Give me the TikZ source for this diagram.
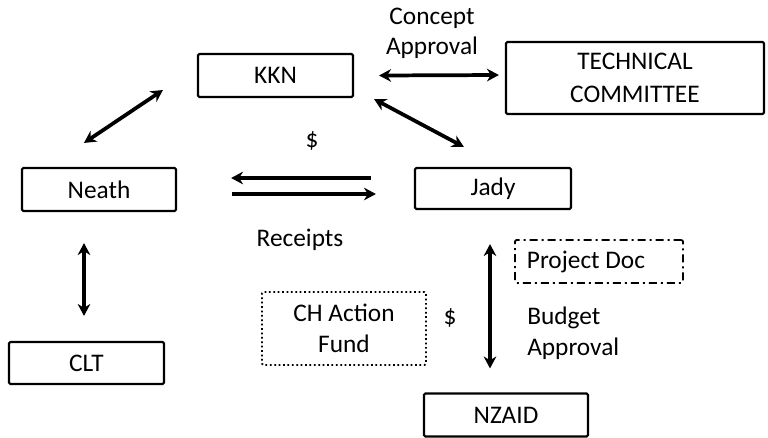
\documentclass[tikz,border=0pt]{standalone}
\usepackage{fontspec}
\setmainfont{Carlito}
\usetikzlibrary{arrows.meta,calc}
\begin{document}
\begin{tikzpicture}[x=0.75pt,y=-0.75pt,
  every node/.style={font=\fontsize{19}{22.5}\selectfont, text=black},
  box/.style={draw, line width=1.6pt, rounded corners=1pt, inner sep=0pt, align=center},
  lbl/.style={align=center, inner sep=0pt},
  link/.style={line width=2.8pt, {Stealth[length=9pt,width=9.5pt]}-{Stealth[length=9pt,width=9.5pt]}},
  flow/.style={line width=2.8pt, -{Stealth[length=9pt,width=9.5pt]}}]
\useasboundingbox (0,0) rectangle (768,437);

% organisations
\node[box, minimum width=155*0.75pt, minimum height=43*0.75pt] (KKN) at (275.5,75.5) {KKN};
\node[box, minimum width=258*0.75pt, minimum height=72*0.75pt] (TC) at (635,78) {TECHNICAL\\[2pt]COMMITTEE};
\node[box, minimum width=154*0.75pt, minimum height=43*0.75pt] (Neath) at (99,189.5) {Neath};
\node[box, minimum width=156*0.75pt, minimum height=41*0.75pt] (Jady) at (493,188.5) {Jady};
\node[box, minimum width=155*0.75pt, minimum height=42*0.75pt] (CLT) at (86.5,363) {CLT};
\node[box, minimum width=164*0.75pt, minimum height=43*0.75pt] (NZAID) at (506,415) {NZAID};
\node[box, line width=1.3pt, dotted, minimum width=164*0.75pt, minimum height=73*0.75pt] (CHAF) at (344,328.5) {CH Action\\[1pt]Fund};
\node[box, line width=1.3pt, dash pattern=on 6pt off 3pt on 1.5pt off 3pt, minimum width=168*0.75pt, minimum height=43*0.75pt] (PD) at (599,261.5) {\hspace*{-19.5pt}Project Doc};

% labels
\node[lbl] (lConcept) at (432,33) {Concept\\[0pt]Approval};
\node[lbl] (lDollarA) at (312,141) {\$};
\node[lbl] (lReceipts) at (300,240) {Receipts};
\node[lbl] (lDollarB) at (450,318) {\$};
\node[lbl, align=left, anchor=west] (lBudget) at (527,333) {Budget\\[1pt]Approval};

% relations
\draw[link] ($(KKN.east)+(25,0)$) -- ($(TC.west)+(-6,-3)$);
\draw[link] ($(KKN.south east)+(20,1)$) -- ($(Jady.north west)+(50,-20)$);
\draw[link] ($(Neath.north)+(-15,-24)$) -- ($(KKN.west)+(-34,14.5)$);
\draw[link] ($(Neath.south)+(-15,31)$) -- ($(CLT.north)+(-2.5,-25)$);
\draw[link] ($(Jady.south)+(-3,34)$) -- ($(NZAID.north)+(-16,-24)$);
\draw[flow] ($(Jady.west)+(-43,-10.5)$) -- ($(Neath.east)+(54,-11.5)$);
\draw[flow] ($(Neath.east)+(55,4.5)$) -- ($(Jady.west)+(-38,5.5)$);
\end{tikzpicture}
\end{document}
